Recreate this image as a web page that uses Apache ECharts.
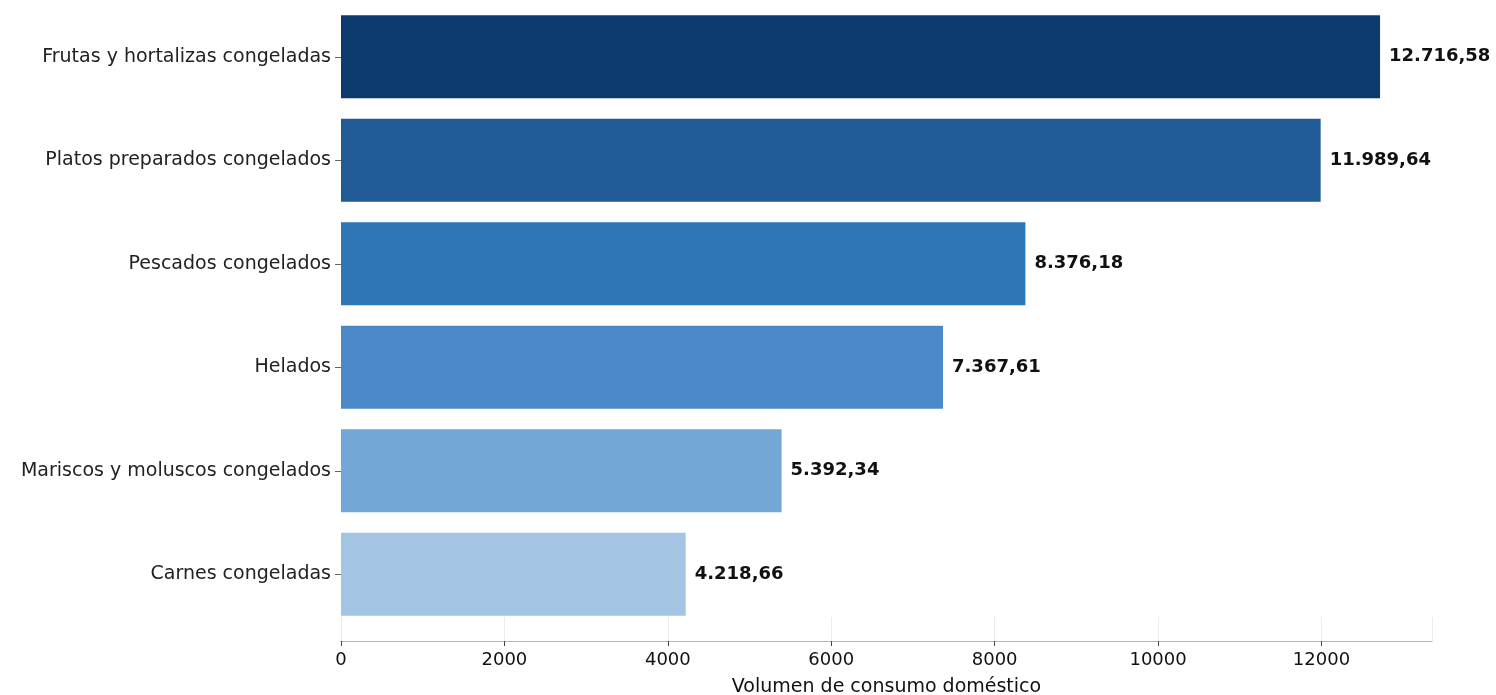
<!DOCTYPE html>
<html>
<head>
<meta charset="utf-8">
<script src="https://cdn.jsdelivr.net/npm/echarts@6/dist/echarts.min.js"></script>
<style>
  html, body { margin: 0; padding: 0; background: #ffffff; }
  #chart { width: 1496px; height: 695px; }
</style>
</head>
<body>
<div id="chart"></div>
<script>
// Consumo doméstico de congelados por categoría
const categories = [
  'Frutas y hortalizas congeladas',
  'Platos preparados congelados',
  'Pescados congelados',
  'Helados',
  'Mariscos y moluscos congelados',
  'Carnes congeladas'
];
const values = [12716.58, 11989.64, 8376.18, 7367.61, 5392.34, 4218.66];
const barColors = ['#0c3a6e', '#205a97', '#2e76b5', '#4a88c7', '#72a7d6', '#a3c5e3'];
const xTicks = [0, 2000, 4000, 6000, 8000, 10000, 12000];
const axisTitle = 'Volumen de consumo doméstico';

// Formato español: punto para miles, coma para decimales
function fmtEs(v) {
  const parts = v.toFixed(2).split('.');
  const intPart = parts[0].replace(/\B(?=(\d{3})+(?!\d))/g, '.');
  return intPart + ',' + parts[1];
}

const xMax = Math.max(...values) * 1.05;
const font = "'DejaVu Sans', sans-serif";

const chart = echarts.init(document.getElementById('chart'), null, { renderer: 'canvas' });

chart.setOption({
  animation: false,
  backgroundColor: '#ffffff',
  grid: [
    // área de las barras
    { left: 341, right: 64, top: 5, height: 621, outerBoundsMode: 'none', containLabel: false },
    // franja del eje inferior
    { left: 341, right: 64, top: 617, height: 24, outerBoundsMode: 'none', containLabel: false }
  ],
  xAxis: [
    {
      gridIndex: 0, type: 'value', min: 0, max: xMax, interval: 2000,
      axisLine: { show: false }, axisTick: { show: false },
      axisLabel: { show: false }, splitLine: { show: false }
    },
    {
      gridIndex: 1, type: 'value', min: 0, max: xMax, interval: 2000,
      name: axisTitle, nameLocation: 'middle', nameGap: 37,
      nameTextStyle: { fontFamily: font, fontSize: 19, color: '#111' },
      axisLine: { show: true, lineStyle: { color: '#b5b5b5', width: 1.2 } },
      axisTick: { show: true, length: 5, lineStyle: { color: '#444' } },
      axisLabel: {
        fontFamily: font, fontSize: 18, color: '#111', margin: 10,
        showMaxLabel: false,
        formatter: v => (xTicks.indexOf(v) >= 0 ? String(v) : '')
      },
      splitLine: { show: true, lineStyle: { color: '#ececec', width: 1 } }
    }
  ],
  yAxis: [
    {
      gridIndex: 0, type: 'category', data: categories, inverse: true,
      axisLine: { show: false },
      axisTick: { show: true, alignWithLabel: true, length: 6, lineStyle: { color: '#666' } },
      axisLabel: { fontFamily: font, fontSize: 19, color: '#222', margin: 10 }
    },
    {
      gridIndex: 1, type: 'value', show: false
    }
  ],
  series: [
    {
      type: 'bar',
      xAxisIndex: 0, yAxisIndex: 0,
      data: values.map((v, i) => ({ value: v, itemStyle: { color: barColors[i] } })),
      barWidth: '80%',
      label: {
        show: true, position: 'right', distance: 9,
        fontFamily: font, fontSize: 18, fontWeight: 'bold', color: '#111',
        formatter: p => fmtEs(p.value)
      }
    }
  ]
});
</script>
</body>
</html>
